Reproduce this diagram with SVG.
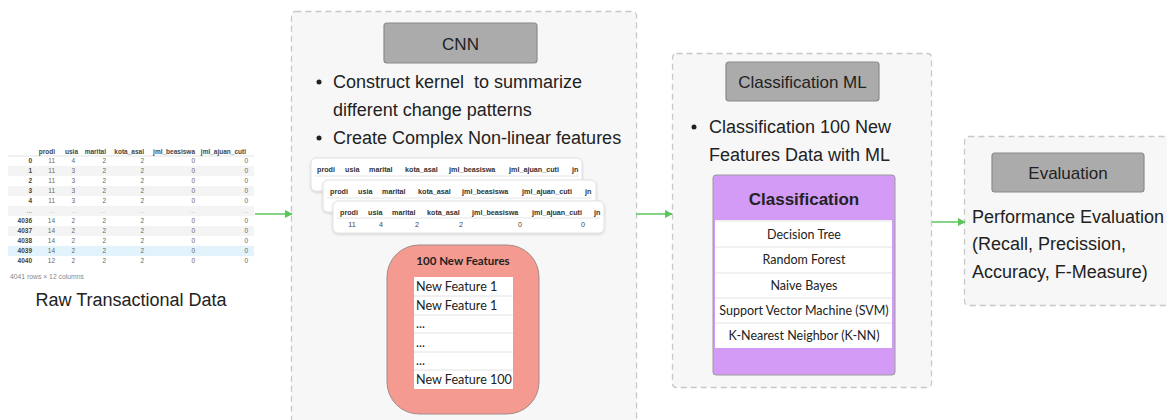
<svg xmlns="http://www.w3.org/2000/svg" width="1167" height="420" viewBox="0 0 1167 420">
  <defs>
    <marker id="arrow" viewBox="0 0 10 10" refX="9" refY="5" markerWidth="8" markerHeight="8" orient="auto" markerUnits="userSpaceOnUse">
      <path d="M0,0 L10,5 L0,10 z" fill="#5cc45c"/>
    </marker>
    <filter id="shadow" x="-5%" y="-5%" width="110%" height="115%">
      <feDropShadow dx="0" dy="1" stdDeviation="1.2" flood-color="#000" flood-opacity="0.18"/>
    </filter>
  </defs>
  <style>
    .container { fill: #f7f7f7; stroke: #c8c8c8; stroke-width: 1.3; stroke-dasharray: 6 4; }
    .header { fill: #ababab; stroke: #8a8a8a; stroke-width: 1.2; }
    .htext { font-family: "Liberation Sans", Arial, sans-serif; font-size: 17px; fill: #222; text-anchor: middle; }
    .body { font-family: "Liberation Sans", Arial, sans-serif; font-size: 18px; fill: #222; white-space: pre; }
    .tbl { font-family: "Liberation Sans", Arial, sans-serif; font-size: 6.5px; fill: #666; text-anchor: end; }
    .tbh { font-family: "Liberation Sans", Arial, sans-serif; font-size: 6.5px; fill: #444; font-weight: bold; text-anchor: end; }
    .card { fill: #ffffff; stroke: #e2e2e2; stroke-width: 1; }
    .ctext { font-family: "Liberation Sans", Arial, sans-serif; font-size: 7.2px; fill: #333; font-weight: bold; }
    .cval { font-family: "Liberation Sans", Arial, sans-serif; font-size: 7.2px; fill: #444; text-anchor: middle; }
    .cal { font-family: Lato, "Liberation Sans", sans-serif; fill: #222; }
    .conn { stroke: #5cc45c; stroke-width: 1.6; fill: none; marker-end: url(#arrow); }
  </style>

  <!-- Raw data table -->
  <g id="raw-data">
    <rect x="8" y="144" width="246" height="140" fill="#ffffff"/>
    <rect x="8" y="166" width="246" height="10" fill="#f4f4f4"/>
    <rect x="8" y="186" width="246" height="10" fill="#f4f4f4"/>
    <rect x="8" y="206" width="246" height="10" fill="#f4f4f4"/>
    <rect x="8" y="226" width="246" height="10" fill="#f4f4f4"/>
    <rect x="8" y="246" width="246" height="10" fill="#e3f3fb"/>
    <line x1="8" y1="156" x2="254" y2="156" stroke="#dcdcdc" stroke-width="0.8"/>
    <g class="tbh">
      <text x="55" y="154">prodi</text><text x="78" y="154">usia</text><text x="106" y="154">marital</text>
      <text x="144" y="154">kota_asal</text><text x="195" y="154">jml_beasiswa</text><text x="246" y="154">jml_ajuan_cuti</text>
    </g>
    <g class="tbh">
      <text x="32" y="163">0</text><text x="32" y="173">1</text><text x="32" y="183">2</text><text x="32" y="193">3</text>
      <text x="32" y="203">4</text><text x="32" y="213" fill="#aaa">...</text><text x="32" y="223">4036</text><text x="32" y="233">4037</text>
      <text x="32" y="243">4038</text><text x="32" y="253">4039</text><text x="32" y="263">4040</text>
    </g>
    <g class="tbl">
      <text x="55" y="163">11</text><text x="75" y="163">4</text><text x="106" y="163">2</text><text x="144" y="163">2</text><text x="195" y="163">0</text><text x="248" y="163">0</text>
      <text x="55" y="173">11</text><text x="75" y="173">3</text><text x="106" y="173">2</text><text x="144" y="173">2</text><text x="195" y="173">0</text><text x="248" y="173">0</text>
      <text x="55" y="183">11</text><text x="75" y="183">3</text><text x="106" y="183">2</text><text x="144" y="183">2</text><text x="195" y="183">0</text><text x="248" y="183">0</text>
      <text x="55" y="193">11</text><text x="75" y="193">3</text><text x="106" y="193">2</text><text x="144" y="193">2</text><text x="195" y="193">0</text><text x="248" y="193">0</text>
      <text x="55" y="203">11</text><text x="75" y="203">3</text><text x="106" y="203">2</text><text x="144" y="203">2</text><text x="195" y="203">0</text><text x="248" y="203">0</text>
      <text x="55" y="213" fill="#bbb">...</text><text x="77" y="213" fill="#bbb">...</text><text x="106" y="213" fill="#bbb">...</text><text x="144" y="213" fill="#bbb">...</text><text x="195" y="213" fill="#bbb">...</text><text x="248" y="213" fill="#bbb">...</text>
      <text x="55" y="223">14</text><text x="75" y="223">2</text><text x="106" y="223">2</text><text x="144" y="223">2</text><text x="195" y="223">0</text><text x="248" y="223">0</text>
      <text x="55" y="233">14</text><text x="75" y="233">2</text><text x="106" y="233">2</text><text x="144" y="233">2</text><text x="195" y="233">0</text><text x="248" y="233">0</text>
      <text x="55" y="243">14</text><text x="75" y="243">2</text><text x="106" y="243">2</text><text x="144" y="243">2</text><text x="195" y="243">0</text><text x="248" y="243">0</text>
      <text x="55" y="253">14</text><text x="75" y="253">2</text><text x="106" y="253">2</text><text x="144" y="253">2</text><text x="195" y="253">0</text><text x="248" y="253">0</text>
      <text x="55" y="263">12</text><text x="75" y="263">2</text><text x="106" y="263">2</text><text x="144" y="263">2</text><text x="195" y="263">0</text><text x="248" y="263">0</text>
    </g>
    <text x="10" y="279" font-family="Liberation Sans, Arial, sans-serif" font-size="6.8" fill="#888">4041 rows × 12 columns</text>
    <text x="131" y="306" class="body" text-anchor="middle">Raw Transactional Data</text>
  </g>

  <!-- CNN stage -->
  <g id="cnn">
    <rect class="container" x="291.5" y="11.5" width="345" height="420" rx="4"/>
    <rect class="header" x="384" y="23" width="153" height="40" rx="3"/>
    <text class="htext" x="460.5" y="50">CNN</text>
    <circle cx="319" cy="82" r="2.5" fill="#222"/>
    <text class="body" x="333" y="88" xml:space="preserve">Construct kernel  to summarize</text>
    <text class="body" x="333" y="116">different change patterns</text>
    <circle cx="319" cy="138" r="2.5" fill="#222"/>
    <text class="body" x="333" y="144">Create Complex Non-linear features</text>

    <!-- stacked feature-map cards -->
    <g id="card-1">
      <rect class="card" x="311" y="158" width="271" height="33" rx="5" filter="url(#shadow)"/>
      <line x1="315" y1="176" x2="578" y2="176" stroke="#ddd" stroke-width="0.8"/>
      <g class="ctext">
        <text x="317" y="172">prodi</text><text x="345" y="172">usia</text><text x="369" y="172">marital</text>
        <text x="405" y="172">kota_asal</text><text x="449" y="172">jml_beasiswa</text><text x="509" y="172">jml_ajuan_cuti</text><text x="572" y="172">jn</text>
      </g>
    </g>
    <g id="card-2">
      <rect class="card" x="323" y="180" width="273" height="32" rx="5" filter="url(#shadow)"/>
      <line x1="327" y1="198" x2="592" y2="198" stroke="#ddd" stroke-width="0.8"/>
      <g class="ctext">
        <text x="330" y="194">prodi</text><text x="358" y="194">usia</text><text x="382" y="194">marital</text>
        <text x="418" y="194">kota_asal</text><text x="462" y="194">jml_beasiswa</text><text x="522" y="194">jml_ajuan_cuti</text><text x="585" y="194">jn</text>
      </g>
    </g>
    <g id="card-3">
      <rect class="card" x="333" y="201" width="271" height="32" rx="5" filter="url(#shadow)"/>
      <line x1="337" y1="218" x2="600" y2="218" stroke="#ddd" stroke-width="0.8"/>
      <g class="ctext">
        <text x="340" y="215">prodi</text><text x="368" y="215">usia</text><text x="392" y="215">marital</text>
        <text x="427" y="215">kota_asal</text><text x="472" y="215">jml_beasiswa</text><text x="532" y="215">jml_ajuan_cuti</text><text x="594" y="215">jn</text>
      </g>
      <g class="cval">
        <text x="352" y="227">11</text><text x="381" y="227">4</text><text x="417" y="227">2</text>
        <text x="461" y="227">2</text><text x="520" y="227">0</text><text x="583" y="227">0</text>
      </g>
    </g>

    <!-- new feature list -->
    <g id="new-features">
      <rect x="387" y="245" width="152" height="169" rx="32" fill="#f59a90" stroke="#a08a88" stroke-width="1"/>
      <text x="463" y="265" class="cal" font-size="11.5" font-weight="bold" text-anchor="middle">100 New Features</text>
      <rect x="414" y="277" width="99" height="112" fill="#ffffff"/>
      <g stroke="#e2e2e2" stroke-width="1">
        <line x1="414" y1="296" x2="513" y2="296"/><line x1="414" y1="315" x2="513" y2="315"/>
        <line x1="414" y1="333" x2="513" y2="333"/><line x1="414" y1="352" x2="513" y2="352"/>
        <line x1="414" y1="370" x2="513" y2="370"/>
      </g>
      <g class="cal" font-size="12.6">
        <text x="416" y="291">New Feature 1</text>
        <text x="416" y="310">New Feature 1</text>
        <text x="416" y="328">...</text>
        <text x="416" y="347">...</text>
        <text x="416" y="365">...</text>
        <text x="416" y="384">New Feature 100</text>
      </g>
    </g>
  </g>

  <!-- Classification ML stage -->
  <g id="classification-ml">
    <rect class="container" x="672.5" y="53.5" width="259" height="334" rx="4"/>
    <rect class="header" x="726" y="62" width="153" height="39" rx="3"/>
    <text class="htext" x="802.5" y="88">Classification ML</text>
    <circle cx="694" cy="127" r="2.5" fill="#222"/>
    <text class="body" x="709" y="133">Classification 100 New</text>
    <text class="body" x="709" y="161">Features Data with ML</text>

    <g id="classifiers">
      <rect x="713" y="175" width="182" height="200" rx="3" fill="#d49bf6" stroke="#9a9a9a" stroke-width="1"/>
      <text x="804" y="205" font-family="Liberation Sans, Arial, sans-serif" font-size="17" font-weight="bold" fill="#222" text-anchor="middle">Classification</text>
      <rect x="715" y="220" width="177" height="128" fill="#ffffff"/>
      <g stroke="#e2e2e2" stroke-width="1">
        <line x1="715" y1="221" x2="892" y2="221"/><line x1="715" y1="247" x2="892" y2="247"/>
        <line x1="715" y1="273" x2="892" y2="273"/><line x1="715" y1="298" x2="892" y2="298"/>
        <line x1="715" y1="323" x2="892" y2="323"/>
      </g>
      <g class="cal" font-size="12.5" text-anchor="middle">
        <text x="804" y="239">Decision Tree</text>
        <text x="804" y="264">Random Forest</text>
        <text x="804" y="290">Naive Bayes</text>
        <text x="804" y="315">Support Vector Machine (SVM)</text>
        <text x="804" y="340">K-Nearest Neighbor (K-NN)</text>
      </g>
    </g>
  </g>

  <!-- Evaluation stage -->
  <g id="evaluation">
    <rect class="container" x="964.5" y="136.5" width="220" height="169" rx="4"/>
    <rect class="header" x="992" y="153" width="152" height="39" rx="3"/>
    <text class="htext" x="1068" y="179">Evaluation</text>
    <text class="body" x="972" y="223">Performance Evaluation</text>
    <text class="body" x="972" y="250">(Recall, Precission,</text>
    <text class="body" x="972" y="278">Accuracy, F-Measure)</text>
  </g>

  <!-- connectors -->
  <g id="connectors">
    <line class="conn" x1="255" y1="214" x2="292" y2="214"/>
    <line class="conn" x1="636" y1="214" x2="672" y2="214"/>
    <line class="conn" x1="932" y1="222" x2="965" y2="222"/>
  </g>
</svg>
